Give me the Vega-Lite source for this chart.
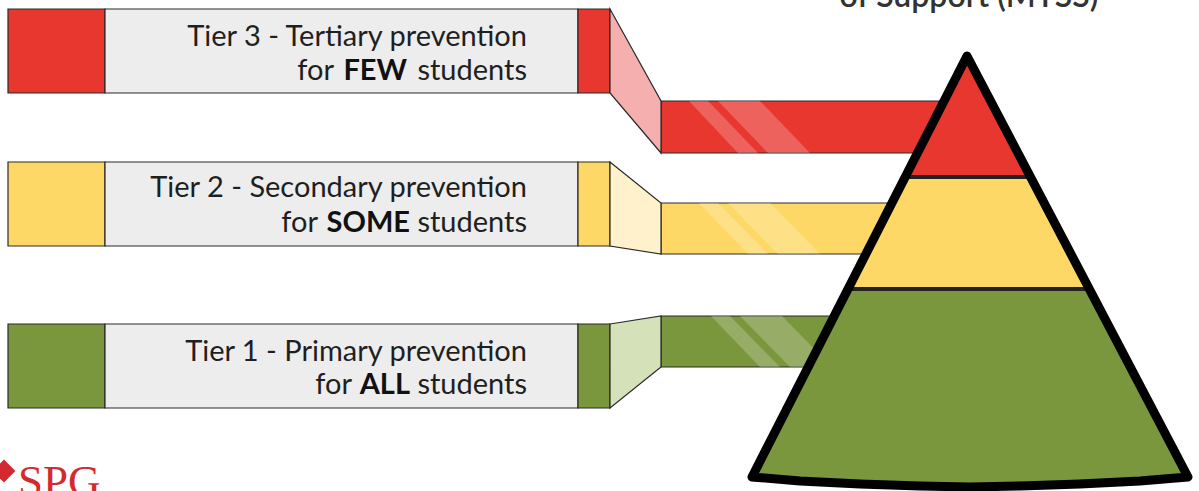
{
  "$schema": "https://vega.github.io/schema/vega-lite/v6.json",
  "width": 1199,
  "height": 491,
  "autosize": {"type": "fit", "contains": "padding"},
  "padding": 0,
  "background": "#ffffff",
  "config": {"view": {"stroke": null}},
  "datasets": {
    "blocks": [
      {"tier": "Tier 3", "shade": "red", "x": 8, "x2": 105, "y": 9, "y2": 93},
      {"tier": "Tier 3", "shade": "gray", "x": 105, "x2": 578, "y": 9, "y2": 93},
      {"tier": "Tier 3", "shade": "red", "x": 578, "x2": 610, "y": 9, "y2": 93},
      {"tier": "Tier 2", "shade": "yellow", "x": 8, "x2": 105, "y": 162, "y2": 246},
      {"tier": "Tier 2", "shade": "gray", "x": 105, "x2": 578, "y": 162, "y2": 246},
      {"tier": "Tier 2", "shade": "yellow", "x": 578, "x2": 610, "y": 162, "y2": 246},
      {"tier": "Tier 1", "shade": "green", "x": 8, "x2": 105, "y": 324, "y2": 408},
      {"tier": "Tier 1", "shade": "gray", "x": 105, "x2": 578, "y": 324, "y2": 408},
      {"tier": "Tier 1", "shade": "green", "x": 578, "x2": 610, "y": 324, "y2": 408},
      {"tier": "Tier 3", "shade": "red", "x": 661, "x2": 950, "y": 101, "y2": 153},
      {"tier": "Tier 2", "shade": "yellow", "x": 661, "x2": 900, "y": 203, "y2": 254},
      {"tier": "Tier 1", "shade": "green", "x": 661, "x2": 860, "y": 316, "y2": 367}
    ],
    "connectors": [
      {"id": "c3", "shade": "red-light", "x": 610, "y": 9, "y2": 93},
      {"id": "c3", "shade": "red-light", "x": 661, "y": 101, "y2": 153},
      {"id": "c2", "shade": "yellow-light", "x": 610, "y": 162, "y2": 246},
      {"id": "c2", "shade": "yellow-light", "x": 661, "y": 203, "y2": 254},
      {"id": "c1", "shade": "green-light", "x": 610, "y": 324, "y2": 408},
      {"id": "c1", "shade": "green-light", "x": 661, "y": 316, "y2": 367}
    ],
    "stripes": [
      {"sid": "r1", "y": 101, "x": 689, "x2": 708}, {"sid": "r1", "y": 153, "x": 738, "x2": 758},
      {"sid": "r2", "y": 101, "x": 718, "x2": 760}, {"sid": "r2", "y": 153, "x": 768, "x2": 810},
      {"sid": "y1", "y": 203, "x": 699, "x2": 718}, {"sid": "y1", "y": 254, "x": 748, "x2": 768},
      {"sid": "y2", "y": 203, "x": 728, "x2": 770}, {"sid": "y2", "y": 254, "x": 778, "x2": 820},
      {"sid": "g1", "y": 316, "x": 711, "x2": 730}, {"sid": "g1", "y": 367, "x": 760, "x2": 780},
      {"sid": "g2", "y": 316, "x": 740, "x2": 782}, {"sid": "g2", "y": 367, "x": 790, "x2": 832}
    ],
    "sections": [
      {"tier": "Tier 3", "shade": "red", "y": 56, "x": 967, "x2": 967},
      {"tier": "Tier 3", "shade": "red", "y": 177, "x": 905, "x2": 1031},
      {"tier": "Tier 2", "shade": "yellow", "y": 177, "x": 905, "x2": 1031},
      {"tier": "Tier 2", "shade": "yellow", "y": 289, "x": 848, "x2": 1090},
      {"tier": "Tier 1", "shade": "green", "y": 289, "x": 848, "x2": 1090},
      {"tier": "Tier 1", "shade": "green", "y": 477, "x": 752, "x2": 1188}
    ],
    "base": [
      {"shade": "green", "x": 752, "y": 476, "y2": 477},
      {"shade": "green", "x": 800, "y": 476, "y2": 481},
      {"shade": "green", "x": 860, "y": 476, "y2": 484},
      {"shade": "green", "x": 920, "y": 476, "y2": 486},
      {"shade": "green", "x": 970, "y": 476, "y2": 487},
      {"shade": "green", "x": 1020, "y": 476, "y2": 486},
      {"shade": "green", "x": 1080, "y": 476, "y2": 484},
      {"shade": "green", "x": 1140, "y": 476, "y2": 481},
      {"shade": "green", "x": 1188, "y": 476, "y2": 477}
    ],
    "outline": [
      {"o": 0, "x": 752, "y": 477},
      {"o": 1, "x": 967, "y": 56},
      {"o": 2, "x": 1188, "y": 477},
      {"o": 3, "x": 1140, "y": 481},
      {"o": 4, "x": 1080, "y": 484},
      {"o": 5, "x": 1020, "y": 486},
      {"o": 6, "x": 970, "y": 487},
      {"o": 7, "x": 920, "y": 486},
      {"o": 8, "x": 860, "y": 484},
      {"o": 9, "x": 800, "y": 481},
      {"o": 10, "x": 752, "y": 477}
    ],
    "dividers": [
      {"x": 905, "x2": 1031, "y": 177},
      {"x": 848, "x2": 1090, "y": 289}
    ],
    "labels": [
      {"text": "Tier 3 - Tertiary prevention", "x": 527, "y": 46, "w": "normal"},
      {"text": "for", "x": 334, "y": 80, "w": "normal"},
      {"text": "FEW", "x": 407, "y": 80, "w": "bold"},
      {"text": "students", "x": 527, "y": 80, "w": "normal"},
      {"text": "Tier 2 - Secondary prevention", "x": 527, "y": 197, "w": "normal"},
      {"text": "for", "x": 318, "y": 232, "w": "normal"},
      {"text": "SOME", "x": 410, "y": 232, "w": "bold"},
      {"text": "students", "x": 527, "y": 232, "w": "normal"},
      {"text": "Tier 1 - Primary prevention", "x": 527, "y": 361, "w": "normal"},
      {"text": "for", "x": 352, "y": 394, "w": "normal"},
      {"text": "ALL", "x": 410, "y": 394, "w": "bold"},
      {"text": "students", "x": 527, "y": 394, "w": "normal"}
    ],
    "title": [{"text": "of Support (MTSS)", "x": 969, "y": 7}],
    "logo": [{"text": "SPG", "x": 18, "y": 496}],
    "logomark": [{"x": 4, "y": 471}]
  },
  "layer": [
    {
      "data": {"name": "blocks"},
      "mark": {"type": "rect", "stroke": "#2a2a2a", "strokeWidth": 1.2, "clip": true},
      "encoding": {
        "x": {"field": "x", "type": "quantitative", "scale": {"domain": [0, 1199], "nice": false, "zero": false}, "axis": null},
        "x2": {"field": "x2"},
        "y": {"field": "y", "type": "quantitative", "scale": {"domain": [0, 491], "reverse": true, "nice": false, "zero": false}, "axis": null},
        "y2": {"field": "y2"},
        "color": {"field": "shade", "type": "nominal", "legend": null,
          "scale": {"domain": ["red", "yellow", "green", "gray", "red-light", "yellow-light", "green-light"],
                    "range": ["#E8372F", "#FED866", "#7A973D", "#EDEDED", "#F5AFAF", "#FFF1CB", "#D5E2B9"]}}
      }
    },
    {
      "data": {"name": "connectors"},
      "mark": {"type": "area", "orient": "vertical", "stroke": "#2a2a2a", "strokeWidth": 1.2, "clip": true},
      "encoding": {
        "x": {"field": "x", "type": "quantitative", "scale": {"domain": [0, 1199], "nice": false, "zero": false}, "axis": null},
        "y": {"field": "y", "type": "quantitative", "scale": {"domain": [0, 491], "reverse": true, "nice": false, "zero": false}, "axis": null},
        "y2": {"field": "y2"},
        "detail": {"field": "id"},
        "color": {"field": "shade", "type": "nominal", "legend": null,
          "scale": {"domain": ["red", "yellow", "green", "gray", "red-light", "yellow-light", "green-light"],
                    "range": ["#E8372F", "#FED866", "#7A973D", "#EDEDED", "#F5AFAF", "#FFF1CB", "#D5E2B9"]}}
      }
    },
    {
      "data": {"name": "stripes"},
      "mark": {"type": "area", "orient": "horizontal", "color": "#ffffff", "opacity": 0.22, "clip": true},
      "encoding": {
        "y": {"field": "y", "type": "quantitative", "scale": {"domain": [0, 491], "reverse": true, "nice": false, "zero": false}, "axis": null},
        "x": {"field": "x", "type": "quantitative", "scale": {"domain": [0, 1199], "nice": false, "zero": false}, "axis": null},
        "x2": {"field": "x2"},
        "detail": {"field": "sid"}
      }
    },
    {
      "data": {"name": "sections"},
      "mark": {"type": "area", "orient": "horizontal", "clip": true},
      "encoding": {
        "y": {"field": "y", "type": "quantitative", "scale": {"domain": [0, 491], "reverse": true, "nice": false, "zero": false}, "axis": null},
        "x": {"field": "x", "type": "quantitative", "scale": {"domain": [0, 1199], "nice": false, "zero": false}, "axis": null},
        "x2": {"field": "x2"},
        "detail": {"field": "tier"},
        "color": {"field": "shade", "type": "nominal", "legend": null,
          "scale": {"domain": ["red", "yellow", "green", "gray", "red-light", "yellow-light", "green-light"],
                    "range": ["#E8372F", "#FED866", "#7A973D", "#EDEDED", "#F5AFAF", "#FFF1CB", "#D5E2B9"]}}
      }
    },
    {
      "data": {"name": "base"},
      "mark": {"type": "area", "orient": "vertical", "clip": true},
      "encoding": {
        "x": {"field": "x", "type": "quantitative", "scale": {"domain": [0, 1199], "nice": false, "zero": false}, "axis": null},
        "y": {"field": "y", "type": "quantitative", "scale": {"domain": [0, 491], "reverse": true, "nice": false, "zero": false}, "axis": null},
        "y2": {"field": "y2"},
        "color": {"field": "shade", "type": "nominal", "legend": null,
          "scale": {"domain": ["red", "yellow", "green", "gray", "red-light", "yellow-light", "green-light"],
                    "range": ["#E8372F", "#FED866", "#7A973D", "#EDEDED", "#F5AFAF", "#FFF1CB", "#D5E2B9"]}}
      }
    },
    {
      "data": {"name": "dividers"},
      "mark": {"type": "rule", "color": "#222222", "strokeWidth": 4, "strokeCap": "round", "clip": true},
      "encoding": {
        "x": {"field": "x", "type": "quantitative", "scale": {"domain": [0, 1199], "nice": false, "zero": false}, "axis": null},
        "x2": {"field": "x2"},
        "y": {"field": "y", "type": "quantitative", "scale": {"domain": [0, 491], "reverse": true, "nice": false, "zero": false}, "axis": null}
      }
    },
    {
      "data": {"name": "outline"},
      "mark": {"type": "line", "color": "#000000", "strokeWidth": 9, "strokeJoin": "round", "strokeCap": "round", "clip": true},
      "encoding": {
        "x": {"field": "x", "type": "quantitative", "scale": {"domain": [0, 1199], "nice": false, "zero": false}, "axis": null},
        "y": {"field": "y", "type": "quantitative", "scale": {"domain": [0, 491], "reverse": true, "nice": false, "zero": false}, "axis": null},
        "order": {"field": "o", "type": "quantitative"}
      }
    },
    {
      "data": {"name": "labels"},
      "transform": [{"filter": "datum.w === 'normal'"}],
      "mark": {"type": "text", "align": "right", "baseline": "alphabetic", "font": "Lato", "fontSize": 29, "fontWeight": "normal", "color": "#1f1f1f", "clip": true},
      "encoding": {
        "x": {"field": "x", "type": "quantitative", "scale": {"domain": [0, 1199], "nice": false, "zero": false}, "axis": null},
        "y": {"field": "y", "type": "quantitative", "scale": {"domain": [0, 491], "reverse": true, "nice": false, "zero": false}, "axis": null},
        "text": {"field": "text"}
      }
    },
    {
      "data": {"name": "labels"},
      "transform": [{"filter": "datum.w === 'bold'"}],
      "mark": {"type": "text", "align": "right", "baseline": "alphabetic", "font": "Lato", "fontSize": 29, "fontWeight": "bold", "color": "#111111", "clip": true},
      "encoding": {
        "x": {"field": "x", "type": "quantitative", "scale": {"domain": [0, 1199], "nice": false, "zero": false}, "axis": null},
        "y": {"field": "y", "type": "quantitative", "scale": {"domain": [0, 491], "reverse": true, "nice": false, "zero": false}, "axis": null},
        "text": {"field": "text"}
      }
    },
    {
      "data": {"name": "title"},
      "mark": {"type": "text", "align": "center", "baseline": "alphabetic", "font": "Lato", "fontSize": 32, "fontWeight": 600, "color": "#333333", "clip": true},
      "encoding": {
        "x": {"field": "x", "type": "quantitative", "scale": {"domain": [0, 1199], "nice": false, "zero": false}, "axis": null},
        "y": {"field": "y", "type": "quantitative", "scale": {"domain": [0, 491], "reverse": true, "nice": false, "zero": false}, "axis": null},
        "text": {"field": "text"}
      }
    },
    {
      "data": {"name": "logo"},
      "mark": {"type": "text", "align": "left", "baseline": "alphabetic", "font": "Liberation Serif", "fontSize": 45, "color": "#D42A2F", "clip": true},
      "encoding": {
        "x": {"field": "x", "type": "quantitative", "scale": {"domain": [0, 1199], "nice": false, "zero": false}, "axis": null},
        "y": {"field": "y", "type": "quantitative", "scale": {"domain": [0, 491], "reverse": true, "nice": false, "zero": false}, "axis": null},
        "text": {"field": "text"}
      }
    },
    {
      "data": {"name": "logomark"},
      "mark": {"type": "point", "shape": "diamond", "filled": true, "color": "#D42A2F", "size": 520, "opacity": 1, "clip": true},
      "encoding": {
        "x": {"field": "x", "type": "quantitative", "scale": {"domain": [0, 1199], "nice": false, "zero": false}, "axis": null},
        "y": {"field": "y", "type": "quantitative", "scale": {"domain": [0, 491], "reverse": true, "nice": false, "zero": false}, "axis": null}
      }
    }
  ]
}
